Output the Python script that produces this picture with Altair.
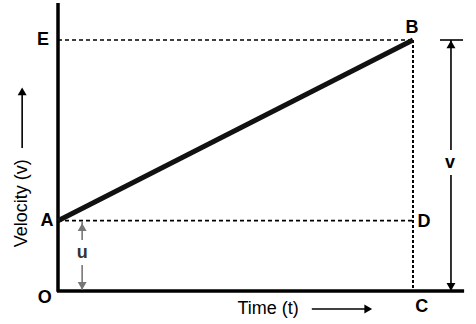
import altair as alt
import pandas as pd

# chart-unit domains (O at origin, t=10 at B, v=10 at E)
x_domain = [-1.634, 11.775]
y_domain = [-1.315, 11.594]

# Main line A -> B
ab_t = [0.0, 10.0]
ab_v = [2.8, 10.0]

# Axes (x, y, x2, y2)
axis_x = [0.0, -0.03]
axis_y = [-0.03, 0.0]
axis_x2 = [0.0, 11.44]
axis_y2 = [11.47, 0.0]

# Dashed guide lines: E-B, A-D
dash_x = [0.0, 0.0]
dash_y = [10.0, 2.8]
dash_x2 = [10.0, 10.0]
dash_y2 = [10.0, 2.8]

# Dotted vertical B-C
dot_x = [10.0]
dot_y = [10.0]
dot_x2 = [10.0]
dot_y2 = [0.0]

# Thin arrow shafts
shaft_x = [11.07, 11.07, 10.76, 0.68, 0.68, -1.01, 7.15]
shaft_y = [10.0, 4.62, 10.0, 2.75, 1.04, 5.7, -0.72]
shaft_x2 = [11.07, 11.07, 11.41, 0.68, 0.68, -1.01, 8.7]
shaft_y2 = [5.62, 0.05, 10.0, 2.03, 0.05, 7.9, -0.72]
shaft_col = ["#000", "#000", "#000", "#777", "#777", "#000", "#000"]

# Arrowheads
head_x = [11.07, 11.07, 0.68, 0.68, -1.01, 8.74]
head_y = [9.83, 0.16, 2.54, 0.2, 7.95, -0.72]
head_shape = ["triangle-up", "triangle-down", "triangle-up", "triangle-down", "triangle-up", "triangle-right"]
head_col = ["#000", "#000", "#777", "#777", "#000", "#000"]

# Point labels
lab_text = ["E", "B", "A", "D", "O", "C", "u", "v"]
lab_x = [-0.42, 9.97, -0.31, 10.31, -0.37, 10.25, 0.68, 11.04]
lab_y = [10.0, 10.48, 2.79, 2.75, -0.28, -0.64, 1.51, 5.1]
lab_col = ["#000", "#000", "#000", "#000", "#000", "#000", "#333", "#000"]

# Axis titles
title_text = ["Time (t)", "Velocity (v)"]
title_x = [5.92, -1.01]
title_y = [-0.72, 3.5]
title_angle = [0, 270]

xs = alt.Scale(domain=x_domain, nice=False, zero=False)
ys = alt.Scale(domain=y_domain, nice=False, zero=False)


def seg_enc(ch):
    return ch.encode(
        x=alt.X("x:Q", scale=xs, axis=None),
        y=alt.Y("y:Q", scale=ys, axis=None),
        x2="x2:Q",
        y2="y2:Q",
    )


axes_df = pd.DataFrame({"x": axis_x, "y": axis_y, "x2": axis_x2, "y2": axis_y2})
ab_df = pd.DataFrame({"x": [ab_t[0]], "y": [ab_v[0]], "x2": [ab_t[1]], "y2": [ab_v[1]]})
dash_df = pd.DataFrame({"x": dash_x, "y": dash_y, "x2": dash_x2, "y2": dash_y2})
dot_df = pd.DataFrame({"x": dot_x, "y": dot_y, "x2": dot_x2, "y2": dot_y2})
shaft_df = pd.DataFrame({"x": shaft_x, "y": shaft_y, "x2": shaft_x2, "y2": shaft_y2, "c": shaft_col})
head_df = pd.DataFrame({"x": head_x, "y": head_y, "s": head_shape, "c": head_col})
lab_df = pd.DataFrame({"t": lab_text, "x": lab_x, "y": lab_y, "c": lab_col})
title_df = pd.DataFrame({"t": title_text, "x": title_x, "y": title_y, "a": title_angle})

axes = seg_enc(alt.Chart(axes_df).mark_rule(color="#000", strokeWidth=3.5))
ab = seg_enc(alt.Chart(ab_df).mark_rule(color="#111", strokeWidth=5))
dash = seg_enc(alt.Chart(dash_df).mark_rule(color="#000", strokeWidth=1.7, strokeDash=[4, 3]))
dot = seg_enc(alt.Chart(dot_df).mark_rule(color="#000", strokeWidth=2, strokeDash=[3, 2]))
shafts = alt.Chart(shaft_df).mark_rule(strokeWidth=1.6).encode(
    x=alt.X("x:Q", scale=xs, axis=None),
    y=alt.Y("y:Q", scale=ys, axis=None),
    x2="x2:Q",
    y2="y2:Q",
    color=alt.Color("c:N", scale=None),
)
heads = alt.Chart(head_df).mark_point(filled=True, size=80, opacity=1).encode(
    x=alt.X("x:Q", scale=xs, axis=None),
    y=alt.Y("y:Q", scale=ys, axis=None),
    shape=alt.Shape("s:N", scale=None),
    color=alt.Color("c:N", scale=None),
)
labels = alt.Chart(lab_df).mark_text(
    font="Liberation Sans", fontSize=18, fontWeight="bold", align="center", baseline="middle"
).encode(
    x=alt.X("x:Q", scale=xs, axis=None),
    y=alt.Y("y:Q", scale=ys, axis=None),
    text="t:N",
    color=alt.Color("c:N", scale=None),
)
titles = alt.Chart(title_df).mark_text(
    font="Liberation Sans", fontSize=18, align="center", baseline="middle", color="#000"
).encode(
    x=alt.X("x:Q", scale=xs, axis=None),
    y=alt.Y("y:Q", scale=ys, axis=None),
    text="t:N",
    angle=alt.Angle("a:Q", scale=None),
)

chart = alt.layer(dash, dot, axes, ab, shafts, heads, labels, titles).properties(
    width=476, height=324, padding=0, autosize=alt.AutoSizeParams(type="none"),
    background="white",
).configure_view(stroke=None)

chart.save("out.html", embed_options={"renderer": "svg", "actions": False})
